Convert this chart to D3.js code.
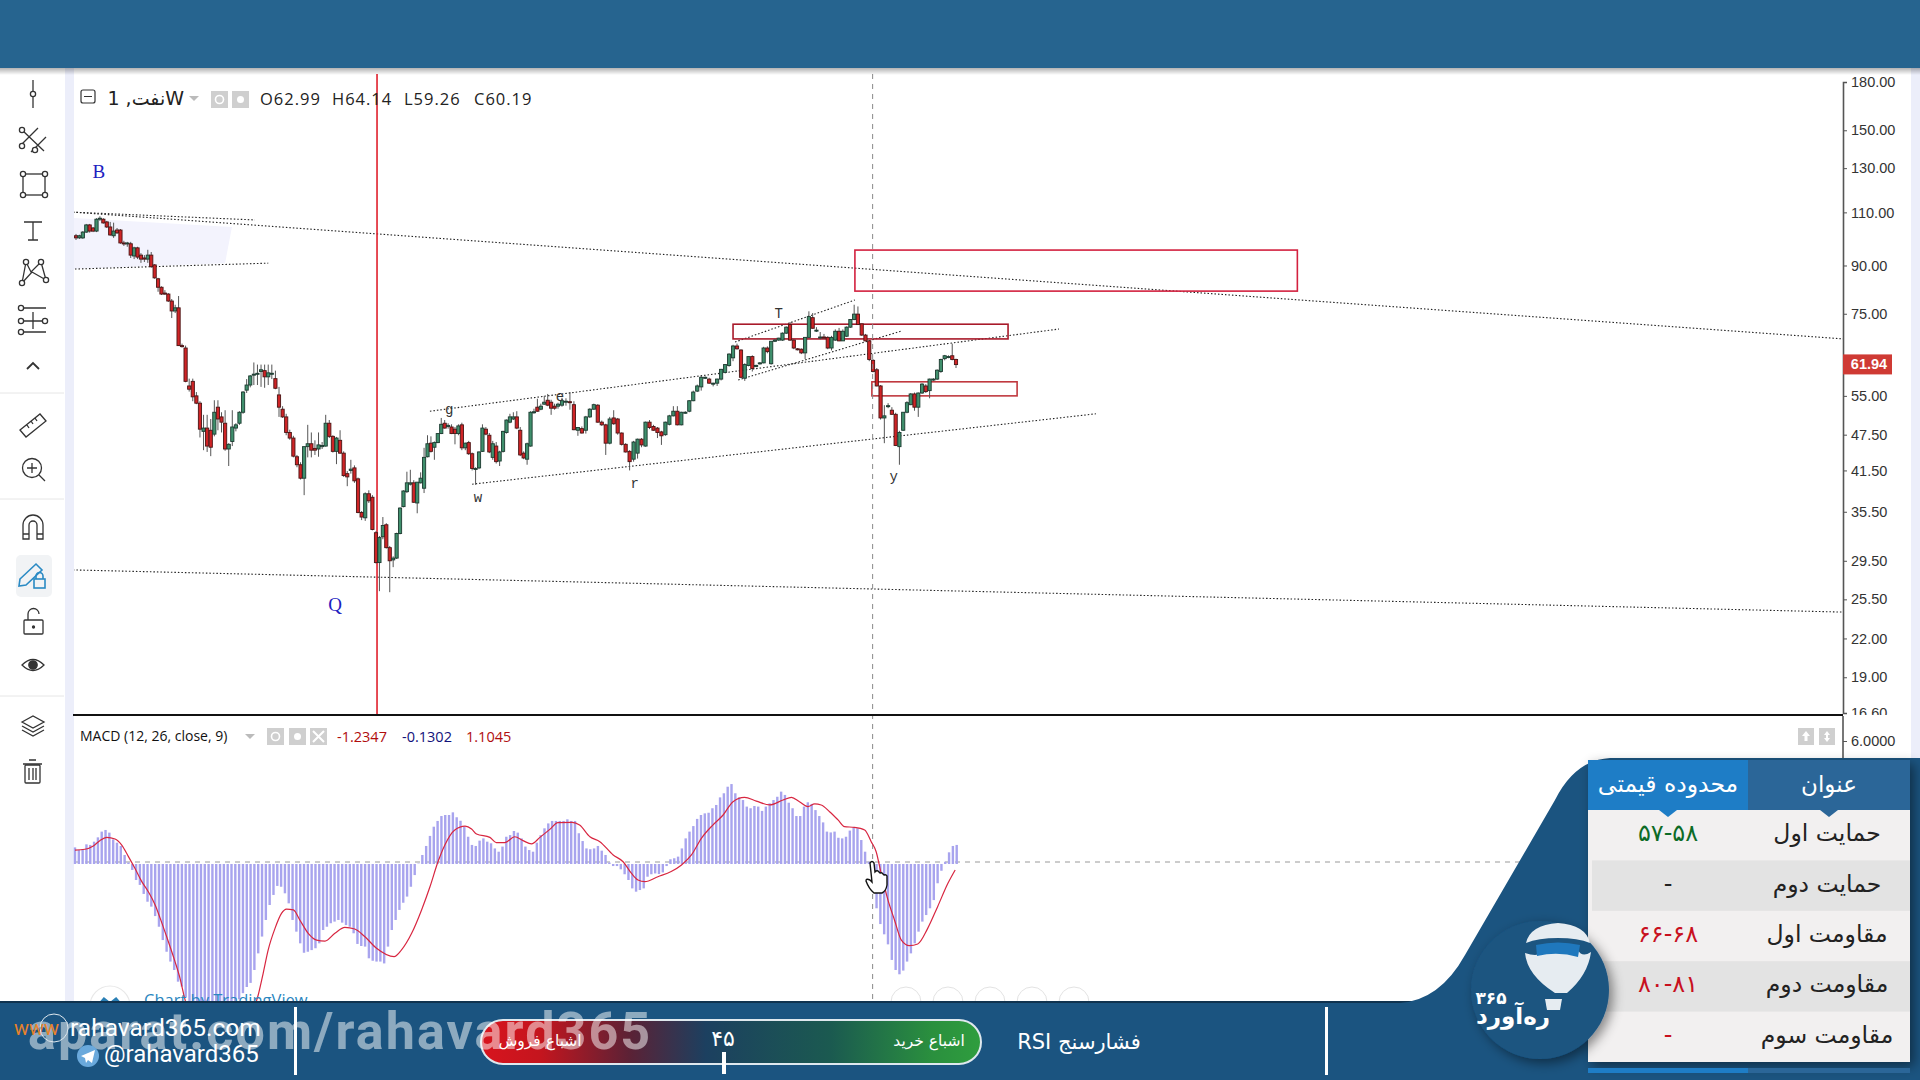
<!DOCTYPE html>
<html>
<head>
<meta charset="utf-8">
<title>chart</title>
<script src="https://cdn.jsdelivr.net/npm/d3@7"></script>
<style>
  html, body { margin: 0; padding: 0; background: #fff; overflow: hidden; }
  svg { display: block; }
  text { font-family: "DejaVu Sans", sans-serif; }
</style>
</head>
<body>
<div id="stat-container"></div>
<script>
const width = 1920;
const height = 1080;

// weekly candles
const opens = [
  100.7,99.9,99.9,102.1,104.9,103.7,102.5,107.2,107.2,106.1,
  104.1,100.7,102.9,102.9,98,97.7,97.7,93.3,96.2,93.6,
  92.6,92.2,93.6,90.2,85.6,82.9,81.1,80.8,78.7,75.8,
  76.7,66.5,65.9,57.1,58.1,55,53.5,48.1,48.7,48.3,
  47.6,52.7,50.8,49.6,45,46.3,48.7,49.6,51.7,56.2,
  57.3,59.5,59.7,60.3,60.5,59.1,59.7,58.7,55.2,52.3,
  50.8,47.9,46.9,43.7,42.4,40.3,45.4,45.9,45.1,45,
  45.4,45.5,49.6,47.2,44.6,46.5,44.3,41,41.5,41.9,
  40.2,35.4,34.7,38,37.5,32.8,29.3,32.3,33.8,31,
  29.6,29.8,32.7,36.2,38.3,39.4,39.6,36.7,39.6,38.8,
  43.7,46,45.3,46.1,47.7,49.6,49,48.9,48.5,47.7,
  49.3,45.2,46.1,44.2,41.7,41.9,44.6,48.5,47.4,43.6,
  45.5,43,44.6,47.9,49.8,50.4,50.8,48.3,44.3,43.3,
  45.5,51.6,52.7,52.3,53.3,54.1,53.7,52.9,52.9,53.1,
  53.8,53.8,53.2,48.3,48.6,48.3,50.8,52.3,53.1,49.8,
  49.3,46,50.6,50.4,47.8,45.8,44.6,43.3,44.3,46.7,
  45.5,49.8,49,48.7,48,47.5,49.4,51,51.9,49.3,
  51.6,51.9,54,56,56.9,58.8,58.6,57.6,57.7,58.6,
  60.1,61.7,63.5,66.4,65.4,58.8,61.7,63.8,61.6,62.1,
  62.3,65.9,62.1,67.6,67.9,67.9,69.7,72,67.9,65.7,
  65.6,64.7,68.6,73.9,70.5,68.6,68.7,68.6,65.9,67.9,
  70.2,67.7,68.9,71.3,73.4,74.9,72.2,69.2,67.7,62.9,
  60.7,57.1,50.6,52.9,52.1,51.3,45.4,48.3,51.7,53.2,
  55.4,52.7,55.6,57.1,56.1,58.4,58.6,60.3,63.3,63.7,64,63.1
];
const highs = [
  101.4,101.1,102.5,105.3,105.3,104.1,107.6,108.4,107.6,106.5,
  106.1,105.8,103.7,103.3,98.8,98.4,98.4,96.6,96.6,94.3,
  93.6,95.5,94.7,90.5,85.9,83.2,82,81.1,79.3,77.6,
  80.2,67,66.5,58.7,58.7,55.8,53.9,51.2,51.2,50.4,
  54.1,54.1,51.7,52.1,46,52.1,49.6,51.9,56,58.6,
  59.5,62.4,61.9,61.9,61.9,61.9,61.9,60.5,56.9,52.9,
  51.4,48.4,47.3,44,42.8,45.4,49.3,47.9,46.5,47.9,
  46.2,51.2,50.2,47.4,47.1,48.3,44.6,41.4,43.2,42.3,
  40.4,35.6,38.2,38.5,37.8,33,32.4,34.8,34,31.2,
  30,32.8,36.1,38.5,41.3,41.6,40,39.7,41.2,45.2,
  47.4,47.2,46.3,47.7,50.6,50.2,49.6,49.4,48.9,49.4,
  49.7,46.1,46.4,44.4,42,44.6,49.4,48.9,47.8,46.4,
  46.2,44.7,48.2,50.3,51.4,51.7,51.9,48.9,44.6,46.1,
  51.9,52.4,54.4,53.4,55,55.4,54.2,53.4,53.6,54.6,
  54.5,55.8,53.9,48.9,49,51,52.5,53.4,53.3,50.1,
  49.5,50.8,52.1,50.6,47.9,46,44.8,46.4,46.8,46.9,
  49.9,50.2,49.3,48.9,48.2,49.9,51.2,52.9,52.9,51.8,
  51.9,54.1,56.1,57.4,59.3,59.2,58.9,57.8,58.7,60.9,
  62,64.6,66.7,67,65.6,62.2,63.8,64.1,61.9,62.5,
  66.2,66.3,67.5,68.2,68.5,69.9,71.5,72.7,68.1,65.9,
  65.8,68.7,75.7,75.2,71.3,70,69.5,68.9,69,70.7,
  71.1,70.7,71.5,73.5,77.6,77.1,72.2,69.5,67.9,63.2,
  61.1,57.3,53.1,53.5,52.7,51.6,48.2,51.7,53.9,55.6,
  55.7,55.7,57.7,57.5,58.7,58.8,60.8,63.3,64.2,64.1,67,63.3
];
const lows = [
  99.1,99.5,99.5,101.8,101.9,102.1,102.1,106.5,105.4,103.7,
  100.7,99.9,101.4,97.7,96.9,96.6,92.6,92.2,92.2,90.9,
  91.2,90.9,89.2,85.6,81.5,80.5,80.5,78.4,73.8,75.2,
  66.4,66,57.9,55.9,53.9,53.3,47,44.8,44.5,43.8,
  47.2,48.3,47.9,44.7,42.2,45.5,48.1,49.3,51.4,55.6,
  56.8,57.3,57.3,56.9,56.7,57.3,58.6,56.4,50.8,50.6,
  47.4,46.6,43.6,42,40.1,37.8,43.6,43.6,44,43.7,
  45,45.4,46.9,44.4,42.5,44.2,40.5,39.1,41,39.6,
  35.3,34.4,34.3,36.7,33.1,29.2,26.3,32,30.9,26.2,
  28.8,29.7,32.6,36.1,38.1,39.2,36.7,35.3,39.5,38.1,
  43.6,44.4,43.2,46,47.6,48.6,48.6,47.6,45.8,47.4,
  44.8,44.8,44,41.5,39.3,41.7,44.5,47.4,44.3,43.2,
  42.6,42.2,44.4,47.7,49.6,50.2,48.5,43.8,43.3,42.4,
  45.4,51.4,51.8,52.1,53.2,52.9,51.2,52.2,52.4,52.8,
  53,52.2,48.3,47.3,47.7,47.7,50.6,52.2,49.7,49.1,
  44,45.8,49.3,47.5,45.6,44.4,41.5,42.9,43.4,45.3,
  45.4,48.5,48.2,46.9,45.7,47.3,49.2,50.9,49.2,49.2,
  51.4,51.7,53.9,55.8,56.1,58.6,57.6,57,57.1,58.3,
  59.9,61.4,62.7,65.5,58.8,58.2,61.5,60.3,61.3,61.9,
  62.2,64.6,61.9,67.4,67.7,67.7,69.5,67.7,65.6,65.3,
  64.4,63.2,68.5,70.9,70,68.1,68.2,65.6,65.3,67.7,
  67.6,67.7,68.7,71.1,73.2,71.9,69,67.7,62.7,60.1,
  57,50.3,46,52.5,51.2,45.5,42.4,48.2,51.5,53.1,
  52,50.8,55.4,55.6,54.5,58.2,58.4,60,62.9,63.4,62.9,61.1
];
const closes = [
  99.9,100.7,102.1,104.9,102.5,102.5,107.2,107.6,105.7,104.1,
  101,102.5,101.8,98,97.7,98,93.6,96.2,92.9,92.2,
  92.2,93.6,89.6,85.9,82.9,80.8,80.8,78.7,75.8,76.7,
  66.5,66.3,58.1,56.4,54.8,53.5,48.5,48.7,45.5,45.3,
  51.7,50.4,49.8,45,45.8,48.9,49.3,51.7,55.8,57.3,
  59.3,59.7,59.9,60.7,59.1,60,59.9,56.6,52.7,50.8,
  47.9,46.9,43.8,42.4,40.3,45.4,45.9,44.8,44.8,45.7,
  45.6,49.6,47.2,44.6,46.9,44.3,40.7,40.5,41.7,39.9,
  35.4,34.8,38,37,33.2,29.3,32.2,33.7,31,29.5,
  29.8,32.7,36,38.4,39.6,39.6,36.8,39.7,40.3,43.6,
  45.9,44.6,46.1,47.7,49.4,48.7,49.2,47.7,47.7,49.1,
  45.2,46,44.2,41.8,41.8,44.5,48.7,47.6,44.5,45.9,
  42.9,44.5,48.1,50.2,50.8,50.8,48.7,44,43.5,45.9,
  51.7,51.8,51.9,52.9,53.7,53.1,52.5,52.5,53.3,54,
  53.9,53.7,48.4,48.8,47.8,50.8,52.3,53.2,49.8,49.3,
  46,50.4,49.5,47.8,45.8,44.5,42.9,46.2,46.7,45.7,
  49.8,48.8,48.3,47.9,47.3,49.8,51,51.9,49.3,51.7,
  51.7,54,55.8,57.1,59,59,57.7,57.7,58.6,60.8,
  61.9,64.4,66.4,65.7,59,61.9,63.8,61,61.7,62.3,
  65.9,65,67.6,67.9,68.4,69.7,71.3,67.9,65.9,65.6,
  64.7,68.6,74.2,71,70.5,68.7,68.6,65.9,68.6,70.2,
  67.7,70.2,71.3,73.4,74.9,72,69.2,67.7,63.1,60.3,
  57.1,50.6,51,53,51.3,45.6,47.9,51.7,53.6,55.4,
  52.7,55.6,57.5,55.9,58.6,58.6,60.6,63.1,64,63.8,63.1,61.9
];

const priceTicks = [180,150,130,110,90,75,55,47.5,41.5,35.5,29.5,25.5,22,19,16.6];
const lastPrice = 61.94;

// [index1, price1, index2, price2]
const trendLines = [
  [-0.9,110.1,476.3,68.2],
  [-0.9,110.1,51.3,106.9],
  [-0.3,88.8,55,90.8],
  [-0.9,28.5,476.3,24.3],
  [100.7,51.9,268.3,70.8],
  [113,39.4,278.1,51.4],
  [182.5,67.4,214.2,79],
  [183.3,58.4,226.7,70.3]
];
// [index1, index2, priceTop, priceBottom, colour]
const zones = [
  [214.2,331.5,95.4,81.7,"#d3213f"],
  [182,254.8,72.1,68.2,"#a81a2a"],
  [218.7,257.2,58,55,"#c0393f"]
];
const shadeIndex = [-0.9,44.9,43,-0.9];
const shadePrice = [107.7,104.1,90.8,88.8];

const waveLabels = ["B","Q","g","e","T","w","r","y"];
const waveIndex = [6.7,73.6,106.3,138.5,194,114.7,157.3,224.5];
const wavePrice = [128.6,25,52.1,54.8,74.9,37.4,39.4,40.5];
const waveFonts = ["blue","blue","dark","dark","dark","dark","dark","dark"];

const markerIndex = 85.3;
const crossIndex = 218.9;

const macdHistogram = [
  .81,.68,.72,.96,.93,1.09,1.30,1.58,1.66,1.53,1.20,1.04,.88,.44,.07,-.29,-.78,-1.02,-1.46,-1.84,
  -2.08,-2.54,-3.06,-3.71,-4.28,-4.76,-5.17,-5.74,-5.98,-6.5,-7,-7.3,-7.6,-7.7,-7.8,-7.9,-7.8,-7.7,-7.5,-7.3,
  -7.2,-7,-6.8,-6.6,-6.3,-6,-5.8,-5.17,-4.36,-3.54,-2.73,-2,-1.51,-1.07,-1.11,-1.43,-1.92,
  -2.73,-3.3,-3.87,-4.33,-4.28,-4.2,-4.11,-3.87,-3.22,-3.06,
  -2.89,-2.81,-2.73,-2.86,-2.98,-3.06,-3.38,-3.9,-4,-4.03,
  -4.6,-4.72,-4.76,-4.76,-4.85,-4.03,-3.22,-2.73,-2.24,-1.89,
  -1.59,-1.11,-.54,.02,.44,.88,1.37,1.82,2.1,2.34,
  2.39,2.39,2.52,2.28,2.11,1.82,1.33,.93,.88,1.14,
  1.25,1.09,1.01,.76,.6,.85,1.33,1.41,1.61,1.53,
  1.25,.85,.68,.6,1.04,1.41,1.74,1.98,2.1,2.1,2.1,
  2.1,2.18,2.1,2.1,1.5,1.12,.76,.72,.76,.88,
  .65,.44,.07,-.1,-.1,-.26,-.5,-.78,-1.19,-1.35,
  -1.27,-1.19,-.62,-.5,-.46,-.49,-.41,-.1,.23,.28,
  .36,.76,1.25,1.58,1.85,2.2,2.39,2.47,2.5,2.72,
  2.88,3.25,3.45,3.77,3.9,3.45,3.25,3.12,2.8,2.72,
  2.83,2.8,2.59,2.8,2.96,3.12,3.28,3.53,3.37,2.99,
  2.72,2.34,2.34,2.8,3.01,2.93,2.63,2.34,2.03,1.58,
  1.54,1.58,1.28,1.25,1.33,1.63,1.79,1.74,1.17,.6,
  .11,-.78,-2.16,-2.93,-3.43,-3.92,-4.68,-5.17,-5.38,-5.2,
  -4.76,-4.36,-3.87,-3.3,-2.81,-2.49,-2.16,-1.76,-.94,-.33,
  .11,.57,.88,.93
];
const signalIndex = [
  0,2.6,4.8,6.5,8.3,10.5,12.2,14,15.7,17.5,19.2,21,22.3,24,26.2,27.5,28.6,31,36,42,46,
  48,49.3,50.6,52.4,54.1,55.4,57.2,58.9,61.1,63.3,65.5,68.1,70.7,73.3,75.9,79,83.6,85.5,88.2,90.8,
  93,95.1,96.9,99.5,102.2,103.9,105.2,108.7,110.4,112.6,115.2,117.4,119.6,121.8,124.4,
  126.5,130.3,132.2,134.9,137.5,141,143.6,145.8,147.5,149.3,152.7,156.2,158.9,161.5,164.1,167.1,169.8,172.4,175.4,
  178.5,182,185.5,187.7,189.8,192,193.8,195.5,197.7,199.9,201.6,204.2,206.9,208.6,209.9,211.2,213,214.7,216.5,
  218.6,220.8,223.4,226,228.7,230.6
];
const signalValues = [
  .68,.72,.88,1.14,1.3,1.22,.93,.36,-.21,-.86,-1.35,-2,-2.64,-3.54,-4.76,-5.57,-6.46,-8,-10,-9.5,-7.5,
  -6.39,-5.33,-4.2,-3.14,-2.41,-2.2,-2.24,-2.73,-3.38,-3.71,-3.76,-3.38,-3.09,-3.17,-3.54,-4.11,-4.52,-4.2,-3.38,-2.24,
  -1.11,.11,.93,1.66,1.85,1.71,1.46,1.3,1.04,1.04,1.33,1.14,.98,1.3,1.69,
  2.02,2.03,1.9,1.33,1.09,.44,.11,-.46,-.78,-.86,-.62,-.37,-.05,.44,1.25,1.9,2.39,3.04,3.25,
  3.07,2.88,3.12,3.25,3.04,2.8,2.93,2.88,2.55,2.15,1.82,1.79,1.66,1.09,.6,-.46,-1.76,-2.73,-3.71,
  -3.98,-3.9,-3.14,-2.08,-.94,-.29
];
const macdTicks = [6];

const tableTitles = ["عنوان","محدوده قیمتی"];
const rowNames = ["حمایت اول","حمایت دوم","مقاومت اول","مقاومت دوم","مقاومت سوم"];
const rowRanges = ["۵۷-۵۸","-","۶۶-۶۸","۸۰-۸۱","-"];
const rowColors = ["#0c6b26","#222","#c8101e","#c8101e","#c8101e"];

const candleCount = closes.length;

let svg = d3.select("#stat-container")
            .append("svg")
            .attr("width", width)
            .attr("height", height)
            .attr("viewBox", `0 0 ${width} ${height}`);

let defs = svg.append("defs");

// the candles are not evenly spaced in the video frame, so the index scale has a few knots
const xScale = d3.scaleLinear().domain([0,31,85,138,184,241]).range([76,182,376,558,741,956]);
const yScale = d3.scaleLog().domain([16.6,180]).range([713,82]);
const barScale = d3.scaleLinear().domain([0,231]).range([75,956.7]);
const macdScale = d3.scaleLinear().domain([0,6]).range([864,741]);

function addGradient(id, stops, vertical) {
  const g = defs.append("linearGradient").attr("id", id)
    .attr("x1", 0).attr("y1", 0).attr("x2", vertical ? 0 : 1).attr("y2", vertical ? 1 : 0);
  stops.forEach(s => g.append("stop").attr("offset", s[0]).attr("stop-color", s[1]).attr("stop-opacity", s[2] === undefined ? 1 : s[2]));
}

function drawCanvas() {
  addGradient("topShadow", [[0,"#000",0.3],[1,"#000",0]], true);
  addGradient("rsiGauge", [[0,"#d8141e"],[0.12,"#c4151e"],[0.3,"#5a2236"],[0.45,"#1c4060"],[0.7,"#1b5a50"],[0.9,"#2a8f3e"],[1,"#2f9e3e"]]);

  const blur = defs.append("filter").attr("id", "softShadow").attr("x", "-30%").attr("y", "-30%").attr("width", "160%").attr("height", "160%");
  blur.append("feDropShadow").attr("dx", 4).attr("dy", 4).attr("stdDeviation", 6).attr("flood-color", "#000").attr("flood-opacity", 0.45);

  svg.append("rect").attr("width", width).attr("height", height).attr("fill", "#fff");
  svg.append("rect").attr("x", 65).attr("y", 68).attr("width", 9).attr("height", 940).attr("fill", "#eceefa");
  svg.append("rect").attr("x", 1911).attr("y", 68).attr("width", 9).attr("height", 940).attr("fill", "#eceefa");
  defs.append("clipPath").attr("id", "pricePane").append("rect").attr("x", 74).attr("y", 74).attr("width", 1769).attr("height", 640);
}

function drawCandles() {
  const pane = svg.append("g").attr("clip-path", "url(#pricePane)");

  pane.append("polygon")
      .attr("points", shadeIndex.map((d, i) => [xScale(d), yScale(shadePrice[i])].join(",")).join(" "))
      .attr("fill", "#f3f3fd");

  pane.selectAll("line.trend").data(trendLines).enter().append("line")
      .attr("class", "trend")
      .attr("x1", d => xScale(d[0])).attr("y1", d => yScale(d[1]))
      .attr("x2", d => xScale(d[2])).attr("y2", d => yScale(d[3]))
      .attr("stroke", "#222").attr("stroke-width", 1.1).attr("stroke-dasharray", "1.5 2");

  pane.selectAll("rect.zone").data(zones).enter().append("rect")
      .attr("class", "zone")
      .attr("x", d => xScale(d[0])).attr("y", d => yScale(d[2]))
      .attr("width", d => xScale(d[1]) - xScale(d[0]))
      .attr("height", d => yScale(d[3]) - yScale(d[2]))
      .attr("fill", "none").attr("stroke", d => d[4]).attr("stroke-width", 1.6);

  // crosshair and the red marker
  svg.append("line").attr("x1", xScale(crossIndex)).attr("x2", xScale(crossIndex)).attr("y1", 74).attr("y2", 1002)
     .attr("stroke", "#888").attr("stroke-dasharray", "5 5");
  pane.append("line").attr("x1", xScale(markerIndex)).attr("x2", xScale(markerIndex)).attr("y1", 74).attr("y2", 714)
      .attr("stroke", "#e0202c").attr("stroke-width", 1.6);

  const candles = pane.selectAll("g.candle").data(d3.range(candleCount)).enter().append("g").attr("class", "candle");
  candles.append("line")
      .attr("x1", i => xScale(i)).attr("x2", i => xScale(i))
      .attr("y1", i => yScale(highs[i])).attr("y2", i => yScale(lows[i]))
      .attr("stroke", "#555").attr("stroke-width", 1);
  candles.append("rect")
      .attr("x", i => xScale(i) - 1.6)
      .attr("width", 3.2)
      .attr("y", i => yScale(Math.max(opens[i], closes[i])))
      .attr("height", i => Math.max(1, yScale(Math.min(opens[i], closes[i])) - yScale(Math.max(opens[i], closes[i]))))
      .attr("fill", i => closes[i] >= opens[i] ? "#3f8f6c" : "#cf2426")
      .attr("stroke", i => closes[i] >= opens[i] ? "#1c3a30" : "#4a1515")
      .attr("stroke-width", 0.9);

  pane.selectAll("text.wave").data(waveLabels).enter().append("text")
      .attr("class", "wave")
      .attr("x", (d, i) => xScale(waveIndex[i]))
      .attr("y", (d, i) => yScale(wavePrice[i]))
      .attr("text-anchor", "middle").attr("dominant-baseline", "central")
      .attr("fill", (d, i) => waveFonts[i] === "blue" ? "#2020c0" : "#333")
      .style("font-family", (d, i) => waveFonts[i] === "blue" ? "'Liberation Serif', serif" : "'Liberation Mono', monospace")
      .style("font-size", (d, i) => waveFonts[i] === "blue" ? "19px" : "14px")
      .text(d => d);
}

function drawPriceAxis() {
  const axis = d3.axisRight(yScale).tickValues(priceTicks).tickFormat(d3.format(".2f")).tickSize(4).tickPadding(4);
  const g = svg.append("g").attr("clip-path", "url(#axisClip)");
  defs.append("clipPath").attr("id", "axisClip").append("rect").attr("x", 1840).attr("y", 70).attr("width", 75).attr("height", 645);
  g.append("g").attr("transform", "translate(1843,0)").call(axis);
  g.selectAll(".domain").attr("stroke", "#555").attr("stroke-width", 1.6);
  g.selectAll(".tick line").attr("stroke", "#555");
  g.selectAll(".tick text").attr("fill", "#333").style("font-family", "'Liberation Sans', sans-serif").style("font-size", "14.5px");

  svg.append("rect").attr("x", 1843).attr("y", yScale(lastPrice) - 10).attr("width", 49).attr("height", 20).attr("fill", "#cf3a34");
  svg.append("text").attr("x", 1869).attr("y", yScale(lastPrice) + 5).attr("text-anchor", "middle")
     .attr("fill", "#fff").style("font-family", "'Liberation Sans', sans-serif").style("font-size", "14.5px").style("font-weight", "bold")
     .text(lastPrice.toFixed(2));

  svg.append("line").attr("x1", 73).attr("x2", 1843).attr("y1", 715).attr("y2", 715).attr("stroke", "#111").attr("stroke-width", 2);

  const macdAxis = d3.axisRight(macdScale).tickValues(macdTicks).tickFormat(d3.format(".4f")).tickSize(4).tickPadding(4);
  const m = svg.append("g").attr("transform", "translate(1843,0)").call(macdAxis);
  m.select(".domain").remove();
  m.selectAll(".tick line").attr("stroke", "#555");
  m.selectAll(".tick text").attr("fill", "#333").style("font-family", "'Liberation Sans', sans-serif").style("font-size", "14.5px");
  svg.append("line").attr("x1", 1843).attr("x2", 1843).attr("y1", 716).attr("y2", 760).attr("stroke", "#555").attr("stroke-width", 1.6);
}

function drawLegends() {
  svg.append("rect").attr("x", 81).attr("y", 90).attr("width", 14).attr("height", 13).attr("rx", 2)
     .attr("fill", "none").attr("stroke", "#333").attr("stroke-width", 1.2);
  svg.append("line").attr("x1", 84).attr("x2", 92).attr("y1", 96.5).attr("y2", 96.5).attr("stroke", "#333");
  svg.append("text").attr("x", 184).attr("y", 105).attr("direction", "rtl").attr("text-anchor", "start")
     .attr("fill", "#222").style("font-size", "19px").text("Wنفت, 1");
  svg.append("path").attr("d", "M189,96 h10 l-5,5 z").attr("fill", "#bbb");

  const grayBox = (x, y, w) => svg.append("rect").attr("x", x).attr("y", y).attr("width", w).attr("height", 17).attr("fill", "#cfcfcf");
  grayBox(211, 91, 17);
  grayBox(232, 91, 17);
  svg.append("circle").attr("cx", 219.5).attr("cy", 99.5).attr("r", 4).attr("fill", "none").attr("stroke", "#fff").attr("stroke-width", 1.6);
  svg.append("circle").attr("cx", 240.5).attr("cy", 99.5).attr("r", 3.5).attr("fill", "#fff");

  const ohlc = [["O62.99", 260], ["H64.14", 332], ["L59.26", 404], ["C60.19", 474]];
  ohlc.forEach(d => svg.append("text").attr("x", d[1]).attr("y", 105).attr("fill", "#222")
     .style("font-family", "'Open Sans', sans-serif").style("font-size", "16.5px").style("letter-spacing", "1px").text(d[0]));

  svg.append("text").attr("x", 80).attr("y", 741).attr("fill", "#111")
     .style("font-family", "'Open Sans', sans-serif").style("font-size", "14px").text("MACD (12, 26, close, 9)");
  svg.append("path").attr("d", "M245,734 h10 l-5,5 z").attr("fill", "#bbb");
  grayBox(267, 728, 17);
  grayBox(289, 728, 17);
  grayBox(310, 728, 17);
  svg.append("circle").attr("cx", 275.5).attr("cy", 736.5).attr("r", 4).attr("fill", "none").attr("stroke", "#fff").attr("stroke-width", 1.6);
  svg.append("circle").attr("cx", 297.5).attr("cy", 736.5).attr("r", 3.5).attr("fill", "#fff");
  svg.append("path").attr("d", "M313,731 l11,11 M324,731 l-11,11").attr("stroke", "#fff").attr("stroke-width", 2);

  const macdVals = [["-1.2347", 337, "#b00d0d"], ["-0.1302", 402, "#12127a"], ["1.1045", 466, "#b00d0d"]];
  macdVals.forEach(d => svg.append("text").attr("x", d[1]).attr("y", 742).attr("fill", d[2])
     .style("font-family", "'Open Sans', sans-serif").style("font-size", "14.5px").text(d[0]));

  grayBox(1798, 728, 16);
  grayBox(1819, 728, 16);
  svg.append("path").attr("d", "M1806,731 l4,5 h-2.5 v5 h-3 v-5 h-2.5 z M1827,731 l3,4 h-2 v3 h2 l-3,4 l-3,-4 h2 v-3 h-2 z").attr("fill", "#fff");
}

function drawMacd() {
  svg.append("line").attr("x1", 75).attr("x2", 1530).attr("y1", 862).attr("y2", 862)
     .attr("stroke", "#999").attr("stroke-dasharray", "5 5");

  svg.selectAll("rect.hist").data(macdHistogram).enter().append("rect")
     .attr("class", "hist")
     .attr("x", (d, i) => barScale(i) - 1.2)
     .attr("width", 2.4)
     .attr("y", d => Math.min(macdScale(d), macdScale(0)))
     .attr("height", d => Math.abs(macdScale(d) - macdScale(0)))
     .attr("fill", "#a8a4ee");

  const line = d3.line()
    .x(d => barScale(d))
    .y((d, i) => macdScale(signalValues[i]))
    .curve(d3.curveMonotoneX);
  svg.append("path").attr("d", line(signalIndex)).attr("fill", "none").attr("stroke", "#d82640").attr("stroke-width", 1.2);

  // hand cursor
  svg.append("path")
     .attr("d", "M870,863 q2,-3 4,0 l1,9 l1,-1 q2,-1 3,1 l1,1 q2,-1 3,1 l1,1 q2,-1 3,1 l0,9 q-1,6 -5,8 l-8,0 q-5,-4 -8,-12 q0,-3 4,-1 l2,2 z")
     .attr("fill", "#fff").attr("stroke", "#111").attr("stroke-width", 1.4);
}

function drawBackdrop() {
  // chart watermark strip just above the footer
  svg.append("circle").attr("cx", 110).attr("cy", 1006).attr("r", 20).attr("fill", "none").attr("stroke", "#e8e8e8").attr("stroke-width", 1.2);
  svg.append("path").attr("d", "M98,1006 l6,-7 l6,5 l6,-5 l6,7").attr("fill", "none").attr("stroke", "#2a7fb5").attr("stroke-width", 3);
  svg.append("text").attr("x", 144).attr("y", 1006).attr("fill", "#2a86c0")
     .style("font-family", "'Open Sans', sans-serif").style("font-size", "16.5px").text("Chart by TradingView");
  [906, 948, 990, 1032, 1074].forEach(x =>
    svg.append("circle").attr("cx", x).attr("cy", 1002).attr("r", 15).attr("fill", "#fff").attr("stroke", "#e3e3e3"));
}

function drawFooter() {
  const c = "#1b5480";
  svg.append("rect").attr("width", width).attr("height", 68).attr("fill", "#26648f");
  svg.append("rect").attr("y", 68).attr("width", width).attr("height", 7).attr("fill", "url(#topShadow)");

  svg.append("rect").attr("y", 1001).attr("width", width).attr("height", 79).attr("fill", c);
  svg.append("rect").attr("y", 1001).attr("width", 1420).attr("height", 2).attr("fill", "#10334f");
  svg.append("path")
     .attr("d", "M1400,1003 Q1440,1000 1465,955 L1555,800 Q1575,760 1610,758 L1920,758 L1920,1003 Z")
     .attr("fill", c);

  // gauge
  svg.append("rect").attr("x", 481).attr("y", 1020).attr("width", 500).attr("height", 44).attr("rx", 22)
     .attr("fill", "url(#rsiGauge)").attr("stroke", "#dfe8ee").attr("stroke-width", 2);

  const lightTxt = (x, y, size, t) => svg.append("text").attr("x", x).attr("y", y).attr("fill", "#fff")
       .attr("text-anchor", "middle").style("font-size", size + "px").text(t);
  lightTxt(540, 1046, 15.5, "اشباع فروش");
  lightTxt(929, 1046, 15.5, "اشباع خرید");
  lightTxt(723, 1046, 22, "۴۵");
  svg.append("rect").attr("x", 722).attr("y", 1052).attr("width", 4).attr("height", 22).attr("fill", "#fff");
  lightTxt(1079, 1049, 21, "فشارسنج RSI").attr("direction", "rtl");

  svg.append("rect").attr("x", 294).attr("y", 1007).attr("width", 3).attr("height", 68).attr("fill", "#fff");
  svg.append("rect").attr("x", 1325).attr("y", 1007).attr("width", 3).attr("height", 68).attr("fill", "#fff");

  svg.append("text").attr("x", 28).attr("y", 1049).attr("fill", "#fff").attr("opacity", 0.5)
     .style("font-family", "'Roboto', sans-serif").style("font-weight", "bold").style("font-size", "52px").style("letter-spacing", "2.1px")
     .text("aparat.com/rahavard365");

  svg.append("text").attr("x", 14).attr("y", 1035).attr("fill", "#e8822a")
     .style("font-family", "'Roboto', sans-serif").style("font-size", "20px").text("www");
  svg.append("circle").attr("cx", 54).attr("cy", 1028).attr("r", 14).attr("fill", "none").attr("stroke", "#dfe8ee");
  svg.append("text").attr("x", 70).attr("y", 1036).attr("fill", "#fff")
     .style("font-family", "'Roboto', sans-serif").style("font-size", "24.5px").text("rahavard365.com");
  svg.append("circle").attr("cx", 88).attr("cy", 1056).attr("r", 11).attr("fill", "#6aa9dc");
  svg.append("path").attr("d", "M81,1056 l14,-6 l-3,13 l-4,-3 l-2,3 l-1,-5 z").attr("fill", "#fff");
  svg.append("text").attr("x", 104).attr("y", 1062).attr("fill", "#fff")
     .style("font-family", "'Roboto', sans-serif").style("font-size", "24px").text("@rahavard365");
}

function drawTable() {
  const left = 1588, mid = 1748, right = 1910;
  const rowTop = d3.scaleLinear().domain([0,5]).range([810,1062]);

  svg.append("rect").attr("x", left).attr("y", 760).attr("width", right - left).attr("height", 302).attr("fill", "#f2f0f0").attr("filter", "url(#softShadow)");
  svg.append("rect").attr("x", left).attr("y", 760).attr("width", mid - left).attr("height", 50).attr("fill", "#1e7dc6");
  svg.append("rect").attr("x", mid).attr("y", 760).attr("width", right - mid).attr("height", 50).attr("fill", "#2b6698");
  svg.append("path").attr("d", `M${(left + mid) / 2 - 9},810 h18 l-9,7 z`).attr("fill", "#1e7dc6");
  svg.append("path").attr("d", `M${(mid + right) / 2 - 9},810 h18 l-9,7 z`).attr("fill", "#2b6698");

  rowNames.forEach((name, i) => {
    if (i % 2 === 1) svg.append("rect").attr("x", left + 4).attr("y", rowTop(i)).attr("width", right - left - 4).attr("height", rowTop(i + 1) - rowTop(i)).attr("fill", "#e3e3e3");
    svg.append("text").attr("x", 1827).attr("y", (rowTop(i) + rowTop(i + 1)) / 2 + 6).attr("text-anchor", "middle")
       .attr("fill", "#222").style("font-size", "23.5px").text(name);
    svg.append("text").attr("x", 1668).attr("y", (rowTop(i) + rowTop(i + 1)) / 2 + 6).attr("text-anchor", "middle")
       .attr("fill", rowColors[i]).style("font-size", "24px").text(rowRanges[i]);
  });

  svg.append("text").attr("x", 1829).attr("y", 792).attr("text-anchor", "middle").attr("fill", "#fff").style("font-size", "23px").text(tableTitles[0]);
  svg.append("text").attr("x", 1668).attr("y", 792).attr("text-anchor", "middle").attr("fill", "#fff").style("font-size", "23.5px").text(tableTitles[1]);

  svg.append("rect").attr("x", left).attr("y", 1068).attr("width", mid - left).attr("height", 5).attr("fill", "#1e7dc6");
  svg.append("rect").attr("x", mid).attr("y", 1068).attr("width", right - mid).attr("height", 5).attr("fill", "#2b6698");

  // logo
  svg.append("circle").attr("cx", 1540).attr("cy", 990).attr("r", 69).attr("fill", "#1b5480").attr("filter", "url(#softShadow)");
  svg.append("path")
     .attr("d", "M1526,943 Q1530,925 1558,923 Q1586,925 1590,943 Q1578,938 1558,938 Q1538,938 1526,943 Z")
     .attr("fill", "#e6ecf1");
  svg.append("path")
     .attr("d", "M1525,953 Q1540,958 1545,950 L1578,950 Q1582,958 1591,952 Q1588,975 1567,993 L1555,993 Q1527,975 1525,953 Z")
     .attr("fill", "#e6ecf1");
  svg.append("path").attr("d", "M1536,945 Q1558,940 1580,945 L1578,957 Q1558,951 1537,956 Z").attr("fill", "#1f78bd");
  svg.append("path").attr("d", "M1545,999 h17 l-2,11 h-13 z").attr("fill", "#e6ecf1");
  svg.append("text").attr("x", 1513).attr("y", 1024).attr("text-anchor", "middle").attr("fill", "#fff").style("font-size", "23px").style("font-weight", "bold").text("ره‌آورد");
  svg.append("text").attr("x", 1491).attr("y", 1004).attr("text-anchor", "middle").attr("fill", "#fff").style("font-size", "17px").style("font-weight", "bold").text("۳۶۵");
}

function drawToolbar() {
  const t = svg.append("g").attr("fill", "none").attr("stroke", "#333").attr("stroke-width", 1.3);
  const knob = (x, y) => t.append("circle").attr("cx", x).attr("cy", y).attr("r", 2.6).attr("fill", "#fff");

  t.append("path").attr("d", "M33,80 V108"); knob(33, 94);
  t.append("path").attr("d", "M22,130 L44,151 M20,146 L38,128 M31,152 L46,137"); knob(22, 130); knob(22, 146); knob(35, 150);
  t.append("rect").attr("x", 23).attr("y", 174).attr("width", 22).attr("height", 21);
  [[23,174],[45,174],[23,195],[45,195]].forEach(p => knob(p[0], p[1]));
  t.append("path").attr("d", "M24,222 H42 M33,222 V240 M28,240 H38");
  t.append("path").attr("d", "M26,262 L22,283 M26,262 L31,272 L41,262 L46,280 L32,272 L22,283"); knob(26, 262); knob(41, 262); knob(22, 283); knob(46, 280);
  t.append("path").attr("d", "M22,308 H46 M22,321 H42 M22,332 H46 M33,312 V329"); knob(21, 308); knob(21, 321); knob(45, 321); knob(21, 332);
  t.append("path").attr("d", "M27,369 L33,363 L39,369").attr("stroke-width", 1.8);

  t.append("path").attr("d", "M20,430 L40,414 L46,421 L26,437 Z M27,425 l2,3 M31,421 l2,3 M35,418 l2,3");
  t.append("circle").attr("cx", 32).attr("cy", 468).attr("r", 9.5);
  t.append("path").attr("d", "M32,463 V473 M27,468 H37 M39,475 L45,481");

  t.append("path").attr("d", "M23,539 V525 A10,10 0 0 1 43,525 V539 H37 V525 A4,4 0 0 0 29,525 V539 Z M23,534 H29 M37,534 H43");
  svg.append("rect").attr("x", 16).attr("y", 555).attr("width", 36).attr("height", 42).attr("rx", 5).attr("fill", "#f1f3f5");
  const pen = svg.append("g").attr("fill", "none").attr("stroke", "#2a8ac4").attr("stroke-width", 1.6);
  pen.append("path").attr("d", "M20,579 L36,564 L42,570 L26,585 L19,586 Z");
  pen.append("rect").attr("x", 34).attr("y", 579).attr("width", 11).attr("height", 9);
  pen.append("path").attr("d", "M36,579 v-3 a3.5,3.5 0 0 1 7,0 v3");

  t.append("rect").attr("x", 24).attr("y", 620).attr("width", 19).attr("height", 14).attr("rx", 1);
  t.append("path").attr("d", "M28,620 V614 A5.5,5.5 0 0 1 39,614");
  t.append("circle").attr("cx", 33.5).attr("cy", 627).attr("r", 1).attr("fill", "#333");
  t.append("path").attr("d", "M22,665 Q33,654 44,665 Q33,676 22,665 Z");
  t.append("circle").attr("cx", 33).attr("cy", 665).attr("r", 4.2).attr("fill", "#333");

  t.append("path").attr("d", "M22,722 L33,716 L44,722 L33,728 Z M22,726 L33,732 L44,726 M22,730 L33,736 L44,730");
  t.append("rect").attr("x", 25).attr("y", 765).attr("width", 15).attr("height", 18).attr("rx", 1);
  t.append("path").attr("d", "M23,764 H42 M29,760 H36 M29,768 V780 M33,768 V780 M36,768 V780");

  [393, 499, 696].forEach(y => svg.append("line").attr("x1", 0).attr("x2", 64).attr("y1", y).attr("y2", y).attr("stroke", "#e6e6e6"));
}

drawCanvas();
drawCandles();
drawMacd();
drawBackdrop();
drawPriceAxis();
drawLegends();
drawToolbar();
drawFooter();
drawTable();
</script>
</body>
</html>
